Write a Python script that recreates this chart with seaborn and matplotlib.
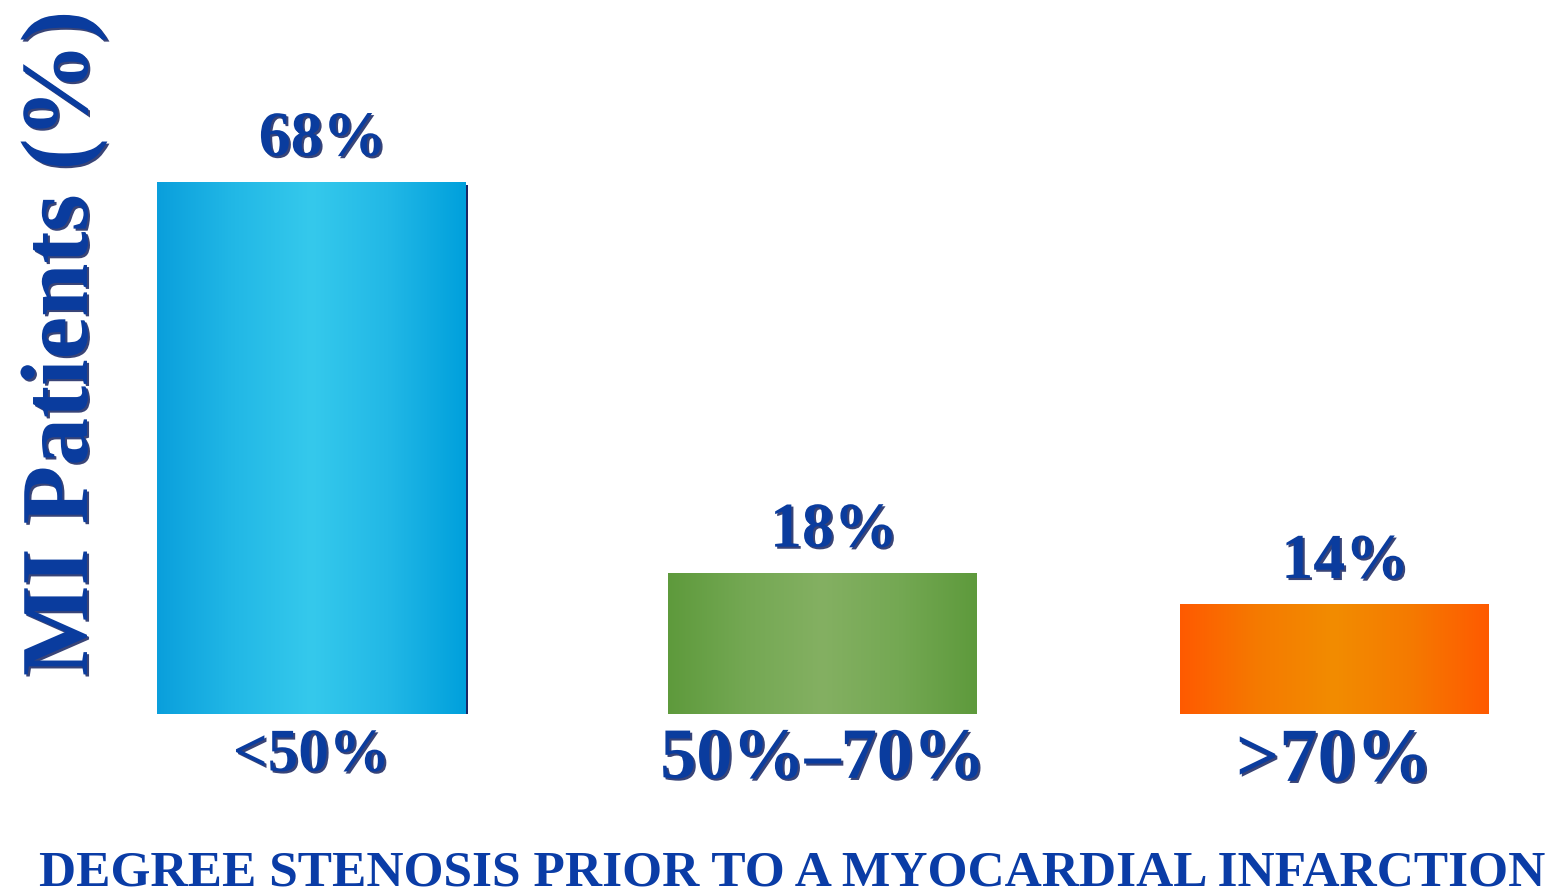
import numpy as np
import pandas as pd
import matplotlib
matplotlib.use("Agg")
import matplotlib.pyplot as plt
import matplotlib.patheffects as pe
from matplotlib.colors import LinearSegmentedColormap
from matplotlib.patches import Rectangle
from matplotlib.transforms import offset_copy
import seaborn as sns

# Share of MI patients by prior degree of stenosis
categories = ["<50%", "50%\u201370%", ">70%"]
values = [68, 18, 14]
value_labels = ["68%", "18%", "14%"]

# edge / centre colours of each bar's horizontal gradient
gradients = [
    ["#0a9fdc", "#22b8e6", "#35c9ec", "#22b8e6", "#00a0dc"],
    ["#5e9a3c", "#74a853", "#84b062", "#74a853", "#5e9a3c"],
    ["#ff5a00", "#f57a00", "#f28c00", "#f57a00", "#ff5a00"],
]
tick_sizes = [44, 52, 55]

sns.set_theme(style="white")
plt.rcParams["font.family"] = ["Liberation Serif", "DejaVu Serif"]

TEXT_BLUE = "#0a3c9e"
shadow_fx = [pe.SimplePatchShadow(offset=(1.5, -1.5), shadow_rgbFace="#16235f", alpha=0.85),
             pe.Normal()]

fig = plt.figure(figsize=(15.64, 8.96), dpi=100)
W, H = 1564, 896
ax = fig.add_axes([100 / W, (H - 714) / H, (W - 100) / W, (714 - 100) / H])

df = pd.DataFrame({"cat": categories, "val": values})
sns.barplot(data=df, x="cat", y="val", ax=ax, width=0.604, color="#cccccc",
            edgecolor="none", linewidth=0)

ax.set_xlim(-0.4137, 2.4499)
ax.set_ylim(0, 78.48)

# gradient fills clipped to each bar
for i, patch in enumerate(ax.patches):
    x0, y0 = patch.get_x(), patch.get_y()
    w, h = patch.get_width(), patch.get_height()
    cmap = LinearSegmentedColormap.from_list(f"g{i}", gradients[i])
    grad = np.linspace(0, 1, 256).reshape(1, -1)
    im = ax.imshow(grad, cmap=cmap, aspect="auto", extent=(x0, x0 + w, y0, y0 + h),
                   zorder=3, interpolation="bicubic")
    im.set_clip_path(patch)
    patch.set_facecolor("none")
    if i == 0:
        sh = Rectangle((x0, y0), w, h, facecolor="#1c2766", edgecolor="none",
                       transform=offset_copy(ax.transData, fig=fig, x=2.5, y=-3, units="dots"),
                       zorder=2)
        ax.add_patch(sh)
    ax.annotate(value_labels[i], (x0 + w / 2, y0 + h), xytext=(8, 9),
                textcoords="offset points", ha="center", va="bottom",
                fontsize=46, fontweight="bold", color=TEXT_BLUE,
                path_effects=shadow_fx, zorder=5)

ax.set_xlabel("")
ax.set_ylabel("")
ax.set_yticks([])
ax.tick_params(axis="x", length=0, pad=10)
for lab, fs in zip(ax.get_xticklabels(), tick_sizes):
    lab.set_fontsize(fs)
    lab.set_fontweight("bold")
    lab.set_color(TEXT_BLUE)
    lab.set_path_effects(shadow_fx)
for s in ax.spines.values():
    s.set_visible(False)

fig.text(64 / W, 1 - 343 / H, "MI Patients (%)", rotation=90, ha="center", va="center",
         fontsize=69, fontweight="bold", color=TEXT_BLUE, path_effects=shadow_fx)
fig.text(792 / W, 1 - 873 / H, "DEGREE STENOSIS PRIOR TO A MYOCARDIAL INFARCTION",
         ha="center", va="center", fontsize=37, fontweight="bold", color="#0a3ca6")

fig.savefig("out.png", dpi=100, facecolor="white")
